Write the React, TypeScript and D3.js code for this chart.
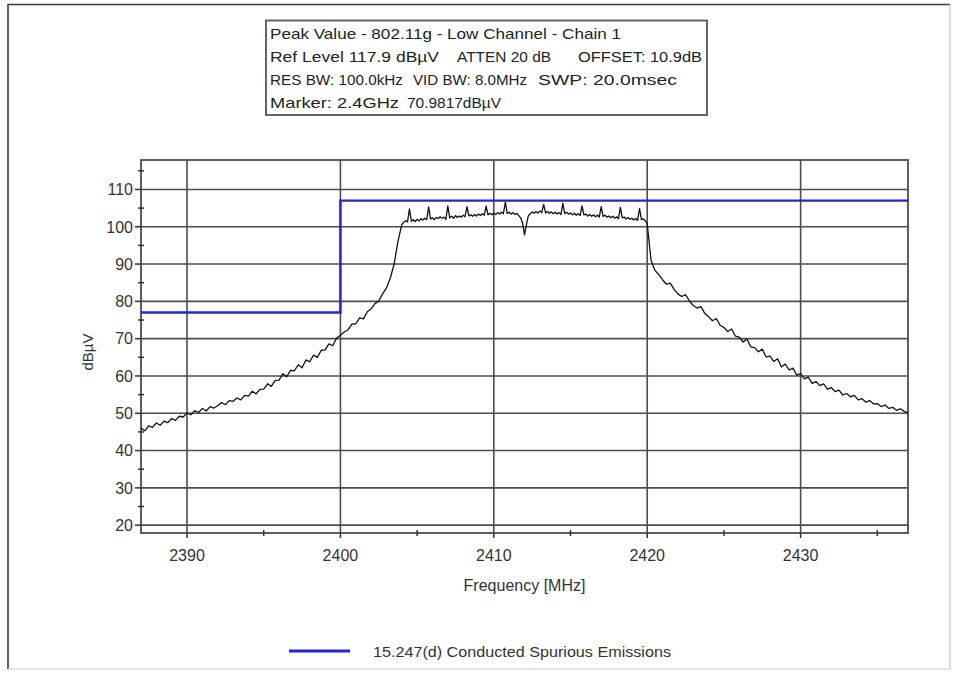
import React from "react";
import * as d3 from "d3";

// ---------- data ----------
const headerRows: string[][] = [
  ["Peak Value - 802.11g - Low Channel - Chain 1"],
  ["Ref Level 117.9 dBµV", "ATTEN 20 dB", "OFFSET: 10.9dB"],
  ["RES BW: 100.0kHz", "VID BW: 8.0MHz", "SWP: 20.0msec"],
  ["Marker: 2.4GHz", "70.9817dBµV"],
];

const xDomain = [2387, 2437];
const yDomain = [17.9, 117.9];
const xTicks = [2390, 2400, 2410, 2420, 2430];
const xMinorTicks = [2395, 2405, 2415, 2425, 2435];
const yTicks = [20, 30, 40, 50, 60, 70, 80, 90, 100, 110];
const yMinorTicks = [25, 35, 45, 55, 65, 75, 85, 95, 105, 115];

const xTitle = "Frequency [MHz]";
const yTitle = "dBµV";
const legendLabel = "15.247(d) Conducted Spurious Emissions";

// limit line (blue)
const limitFreqs = [2387, 2400, 2400, 2437];
const limitLevels = [77, 77, 107, 107];

const lowSkirtStart = 2387;
const lowSkirtStep = 0.25;
const lowSkirtLevels = [
  46.0, 45.3, 46.6, 46.2,
  47.4, 46.8, 47.9, 47.5,
  48.6, 48.1, 49.2, 49.0,
  50.1, 49.6, 50.7, 50.2,
  51.3, 50.6, 51.8, 51.4,
  52.0, 52.9, 52.3, 53.4,
  53.2, 54.1, 53.6, 54.8,
  54.6, 55.9, 55.2, 56.4,
  56.5, 57.9, 57.2, 58.8,
  58.9, 60.6, 59.8, 61.5,
  61.4, 63.0, 62.2, 64.3,
  63.8, 65.6, 65.0, 66.9,
  67.0, 68.6, 68.1, 70.2,
  70.9, 71.8, 72.4, 73.9,
  74.0, 75.6, 75.3, 77.2,
  78.0, 79.4, 80.1, 82.0,
  83.6, 86.2, 90.0, 96.0,
];

const plateauStart = 2404;
const plateauStep = 0.125;
const plateauLevels = [
  100.6, 101.2, 101.6, 101.3, 104.8, 101.5, 101.9, 101.4,
  102.0, 101.6, 102.2, 101.8, 102.3, 101.9, 105.3, 102.1,
  102.4, 101.9, 102.5, 102.2, 102.7, 102.3, 102.6, 102.0,
  105.6, 102.4, 102.8, 102.3, 103.0, 102.5, 102.9, 102.6,
  103.1, 102.7, 105.4, 102.9, 103.2, 102.8, 103.3, 102.9,
  103.4, 103.0, 103.5, 103.1, 105.5, 103.2, 103.6, 103.2,
  103.7, 103.3, 103.8, 103.4, 103.9, 103.5, 106.6, 103.6,
  103.9, 103.4, 103.8, 103.3, 103.6, 103.0, 102.4, 101.0,
  97.8, 100.6, 102.9, 103.5, 104.0, 103.6, 104.1, 103.7,
  104.2, 103.8, 106.0, 103.7, 104.1, 103.6, 104.0, 103.5,
  103.9, 103.4, 103.8, 103.3, 106.3, 103.5, 103.9, 103.4,
  103.7, 103.2, 103.6, 103.1, 103.5, 103.0, 105.6, 103.2,
  103.4, 102.9, 103.3, 102.8, 103.2, 102.7, 103.1, 102.6,
  105.4, 102.8, 103.1, 102.6, 102.9, 102.4, 102.8, 102.3,
  102.7, 102.2, 105.2, 102.4, 102.6, 102.1, 102.5, 102.0,
  102.3, 101.8, 102.2, 101.7, 104.9, 101.9, 102.1, 101.6,
  100.8,
];

const highSkirtStart = 2420.25;
const highSkirtStep = 0.25;
const highSkirtLevels = [
  91.0, 88.3, 87.2,
  85.8, 84.6, 84.9, 83.2,
  82.0, 81.3, 81.8, 80.1,
  78.9, 78.2, 78.6, 76.8,
  75.9, 74.8, 75.4, 73.6,
  73.0, 71.9, 72.6, 70.7,
  70.4, 69.1, 69.9, 67.8,
  67.6, 66.5, 67.2, 65.1,
  65.3, 63.9, 64.6, 62.4,
  63.2, 61.6, 62.1, 60.2,
  60.6, 59.2, 59.7, 58.0,
  58.5, 57.4, 57.9, 56.5,
  56.9, 55.8, 56.2, 54.9,
  55.3, 54.4, 54.8, 53.6,
  53.9, 53.0, 53.4, 52.5,
  52.6, 51.8, 52.2, 51.3,
  51.6, 50.8, 51.2, 50.5,
  50.1,
];

// ---------- component ----------
const FONT = "'Liberation Sans', Arial, sans-serif";
const GRID = "#4d4d4d";
const BLUE = "#2626cc";

export default function App() {
  const W = 954;
  const H = 673;
  const left = 141, right = 908, top = 160, bottom = 533;

  const x = d3.scaleLinear().domain(xDomain).range([left, right]);
  const y = d3.scaleLinear().domain(yDomain).range([bottom, top]);

  const seg = (start: number, step: number, levels: number[]) =>
    levels.map((v, i) => [start + i * step, v] as [number, number]);
  const trace = [
    ...seg(lowSkirtStart, lowSkirtStep, lowSkirtLevels),
    ...seg(plateauStart, plateauStep, plateauLevels),
    ...seg(highSkirtStart, highSkirtStep, highSkirtLevels),
  ];
  const line = d3
    .line<[number, number]>()
    .x((d) => x(d[0]))
    .y((d) => y(d[1]));
  const limit = limitFreqs.map((f, i) => [f, limitLevels[i]] as [number, number]);

  // header layout: [x, width] per segment
  const headerLayout: [number, number][][] = [
    [[270, 351]],
    [[270, 169], [457, 94], [578, 124]],
    [[270, 133], [413, 114], [538, 139]],
    [[270, 129], [407, 94]],
  ];
  const headerBase = [39, 62, 85, 108];

  return (
    <svg
      width={W}
      height={H}
      style={{ position: "absolute", left: 0, top: 0, background: "#fff" }}
      fontFamily={FONT}
    >
      <rect x={0} y={0} width={W} height={H} fill="#fff" />
      {/* outer frame */}
      <line x1={8} y1={4.5} x2={950} y2={4.5} stroke="#3a3a3a" strokeWidth={1.6} />
      <line x1={8} y1={4} x2={8} y2={669} stroke="#3a3a3a" strokeWidth={1.6} />
      <line x1={950} y1={4} x2={950} y2={669} stroke="#bbb" strokeWidth={1} />
      <line x1={8} y1={669} x2={950} y2={669} stroke="#ccc" strokeWidth={1} />

      {/* header box */}
      <rect x={266} y={20.5} width={441} height={94.5} fill="#fff" stroke="#555" strokeWidth={1.8} />
      {headerRows.map((row, r) =>
        row.map((t, s) => (
          <text
            key={`h${r}-${s}`}
            x={headerLayout[r][s][0]}
            y={headerBase[r]}
            fontSize={15}
            fill="#222"
            textLength={headerLayout[r][s][1]}
            lengthAdjust="spacingAndGlyphs"
          >
            {t}
          </text>
        ))
      )}

      {/* gridlines */}
      {yTicks.map((t) => (
        <line key={`gy${t}`} x1={left} x2={right} y1={y(t)} y2={y(t)} stroke={GRID} strokeWidth={1.6} />
      ))}
      {xTicks.map((t) => (
        <line key={`gx${t}`} x1={x(t)} x2={x(t)} y1={top} y2={bottom} stroke={GRID} strokeWidth={1.6} />
      ))}
      {/* plot frame */}
      <rect x={left} y={top} width={right - left} height={bottom - top} fill="none" stroke={GRID} strokeWidth={1.8} />

      {/* y ticks */}
      {yTicks.map((t) => (
        <g key={`ty${t}`}>
          <line x1={left - 6} x2={left} y1={y(t)} y2={y(t)} stroke="#333" strokeWidth={1.5} />
          <text x={left - 8} y={y(t)} dy="0.36em" textAnchor="end" fontSize={16} fill="#333">
            {t}
          </text>
        </g>
      ))}
      {yMinorTicks.map((t) => (
        <line key={`my${t}`} x1={left - 3} x2={left + 3} y1={y(t)} y2={y(t)} stroke="#333" strokeWidth={1.5} />
      ))}
      {/* x ticks */}
      {xTicks.map((t) => (
        <g key={`tx${t}`}>
          <line x1={x(t)} x2={x(t)} y1={bottom} y2={bottom + 5} stroke="#333" strokeWidth={1.5} />
          <text x={x(t)} y={561} textAnchor="middle" fontSize={16} fill="#333">
            {t}
          </text>
        </g>
      ))}
      {xMinorTicks.map((t) => (
        <line key={`mx${t}`} x1={x(t)} x2={x(t)} y1={bottom - 3} y2={bottom + 3} stroke="#333" strokeWidth={1.5} />
      ))}

      {/* axis titles */}
      <text x={(left + right) / 2} y={591} textAnchor="middle" fontSize={16} fill="#333">
        {xTitle}
      </text>
      <text
        transform={`translate(93, ${352}) rotate(-90)`}
        textAnchor="middle"
        fontSize={15}
        fill="#333"
      >
        {yTitle}
      </text>

      {/* trace */}
      <path d={line(trace) || ""} fill="none" stroke="#111" strokeWidth={1.3} strokeLinejoin="round" />
      {/* limit line */}
      <path d={line(limit) || ""} fill="none" stroke={BLUE} strokeWidth={2.4} />

      {/* legend */}
      <line x1={289} x2={350} y1={651} y2={651} stroke={BLUE} strokeWidth={3} />
      <text x={373} y={656.5} fontSize={15} fill="#333" textLength={298} lengthAdjust="spacingAndGlyphs">
        {legendLabel}
      </text>
    </svg>
  );
}
